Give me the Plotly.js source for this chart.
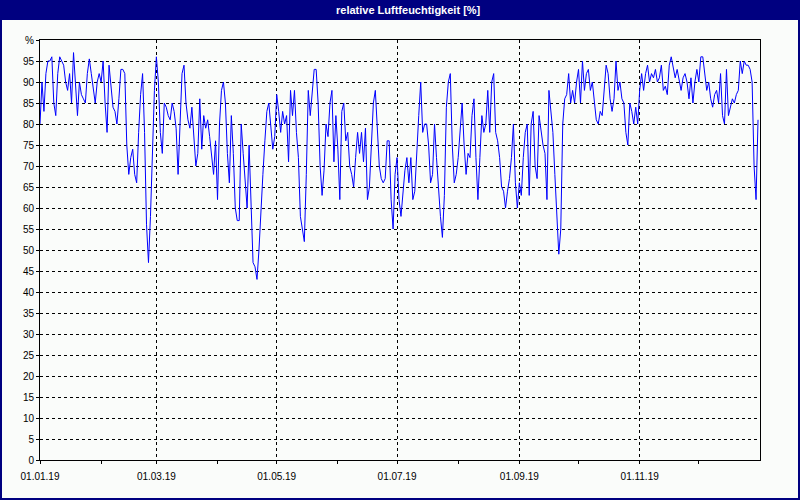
<!DOCTYPE html>
<html><head><meta charset="utf-8">
<script src="https://cdn.plot.ly/plotly-3.0.1.min.js"></script>
<style>html,body{margin:0;padding:0;background:#fafcfa;}#chart{width:800px;height:500px;}</style>
</head><body><div id="chart"></div>
<script>
const humidity = [
80,90,83,92,95,95,96,85,82,92,
96,95,94,90,88,92,85,97,88,82,
90,87,86,85,92,95.5,92,88,85,90,
92,90,95,85,78,94,88,84,83,80,
86,93,93,92,75,68,72,74,68,66,
78,87,92,78,56,47,58,72,88,96,
90,78,73,85,84,82,81,85,83,79,
68,80,92,94,85,81,79,84,78,70,
73,86,74,82,79,81,77,72,68,76,
62,80,88,90,85,73,66,82,73,60,
57,57,80,73,65,60,75,58,47,46,
43,50,60,68,76,83,85,80,74,77,
87,83,78,83,80,82,71,88,82,88,
78,72,58,55,52,68,88,82,87,93,
93,85,70,63,69,80,77,85,88,71,
82,74,62,83,85,76,78,70,68,65,
72,78,73,78,71,79,62,65,75,85,
88,78,70,67,66,67,76,76,62,55,
68,72,62,58,64,69,72,66,72,62,
64,75,82,90,78,80,80,75,66,68,
80,72,64,58,53,63,84,90,92,75,
66,68,72,78,85,75,68,73,72,82,
86,72,62,72,82,78,80,88,78,90,
92,78,76,72,65,64,60,64,67,72,
80,66,60,66,63,72,78,80,63,80,
83,70,67,82,78,75,73,62,88,82,
78,68,59,49,55,80,86,87,92,85,
88,85,90,93,85,95,88,92,93,88,
90,85,81,80,83,82,88,94,92,86,
83,86,95,88,90,86,85,78,75,85,
83,80,84,80,88,92,88,92,94,90,
92,91,93,90,91,94,88,89,87,94,
96,93,91,93,90,88,91,92,90,86,
91,85,90,93,90,96,96,92,88,90,
86,84,87,88,85,92,82,80,93,82,
84,86,85,87,88,95,92,95,94,94,
93,90,70,62,81
];
const xTickVals = ['2019-01-01','2019-03-01','2019-05-01','2019-07-01','2019-09-01','2019-11-01'];
const xTickText = ['01.01.19','01.03.19','01.05.19','01.07.19','01.09.19','01.11.19'];
const xMinorVals = ['2019-01-01','2019-02-01','2019-03-01','2019-04-01','2019-05-01','2019-06-01','2019-07-01','2019-08-01','2019-09-01','2019-10-01','2019-11-01','2019-12-01'];
const yTickVals = [0,5,10,15,20,25,30,35,40,45,50,55,60,65,70,75,80,85,90,95,100];
const yTickText = ['0','5','10','15','20','25','30','35','40','45','50','55','60','65','70','75','80','85','90','95','%'];
const chartTitle = 'relative Luftfeuchtigkeit [%]';

const dates = humidity.map((v,i)=>{
  const d = new Date(Date.UTC(2019,0,1) + i*86400000);
  return d.toISOString().slice(0,10);
});

const px = p => (p-40)/720;
const py = p => (460-p)/420;

const trace = {x:dates, y:humidity, type:'scatter', mode:'lines',
  line:{color:'#0000ff', width:1}, hoverinfo:'skip'};

const layout = {
  width:800, height:500,
  margin:{l:40,r:40,t:40,b:40},
  paper_bgcolor:'#fafcfa', plot_bgcolor:'#fafcfa',
  showlegend:false,
  font:{family:'Liberation Sans, Arial, sans-serif', size:10, color:'#000'},
  xaxis:{type:'date', range:['2019-01-01','2020-01-01'],
    tickmode:'array', tickvals:xTickVals, ticktext:xTickText,
    ticks:'outside', ticklen:3, tickcolor:'#000',
    minor:{tickmode:'array', tickvals:xMinorVals, ticks:'outside', ticklen:3, tickcolor:'#000', showgrid:false},
    showgrid:true, gridcolor:'#000', gridwidth:1, griddash:'3px,3px',
    showline:true, linecolor:'#000', linewidth:1, mirror:true,
    zeroline:false, fixedrange:true, ticklabelstandoff:4},
  yaxis:{range:[0,100], tickmode:'array', tickvals:yTickVals, ticktext:yTickText,
    ticks:'outside', ticklen:3, tickcolor:'#000',
    showgrid:true, gridcolor:'#000', gridwidth:1, griddash:'3px,3px',
    showline:true, linecolor:'#000', linewidth:1, mirror:true,
    zeroline:false, fixedrange:true},
  shapes:[
    {type:'rect', xref:'paper', yref:'paper', x0:px(0), x1:px(800), y0:py(20), y1:py(0),
      fillcolor:'#000080', line:{width:0}, layer:'below'},
    {type:'rect', xref:'paper', yref:'paper', x0:px(1), x1:px(799), y0:py(499), y1:py(1),
      fillcolor:'rgba(0,0,0,0)', line:{color:'#000080', width:2}}
  ],
  annotations:[
    {text:'<b>'+chartTitle+'</b>', xref:'paper', yref:'paper', x:px(409), y:py(10),
      xanchor:'center', yanchor:'middle', showarrow:false,
      font:{family:'Liberation Sans, Arial, sans-serif', size:11, color:'#ffffff'}}
  ]
};
Plotly.newPlot('chart',[trace],layout,{displayModeBar:false, staticPlot:true});
</script>
</body></html>
